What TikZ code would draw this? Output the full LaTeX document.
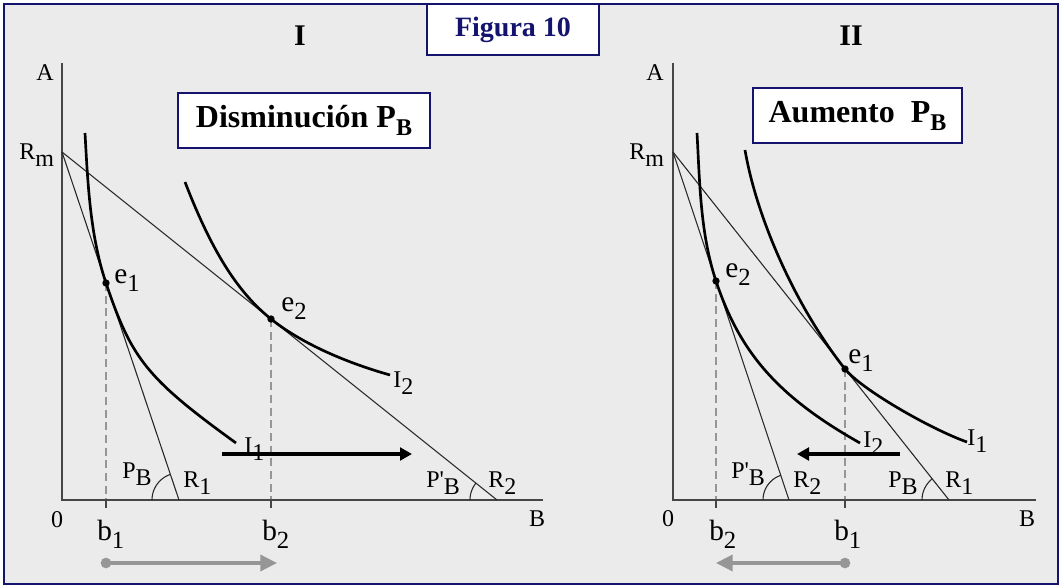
\documentclass[tikz,border=0pt]{standalone}
\usepackage{fontspec}
\setmainfont{Liberation Serif}
\usetikzlibrary{arrows.meta}
\definecolor{navy}{RGB}{20,20,110}
\definecolor{bgc}{RGB}{235,235,235}
\definecolor{axisc}{RGB}{70,70,70}
\definecolor{dashc}{RGB}{150,150,150}
\definecolor{arrgray}{RGB}{150,150,150}
\newcommand\lo[1]{\raisebox{-0.33em}{#1}}
\newcommand\los[1]{\raisebox{-0.3em}{\fontsize{18.5}{18.5}\selectfont #1}}
\tikzset{
  lbl/.style={inner sep=0pt, font=\fontsize{18}{18}\selectfont, anchor=base west},
  lblc/.style={inner sep=0pt, font=\fontsize{18}{18}\selectfont},
  biglbl/.style={inner sep=0pt, font=\fontsize{22}{22}\selectfont, anchor=base west},
  axisln/.style={draw=axisc, line width=1.1pt},
  budget/.style={draw=black!85, line width=0.8pt},
  icurve/.style={draw=black, line width=2pt},
  guide/.style={draw=dashc, line width=0.8pt, dash pattern=on 6pt off 3.5pt},
  tickln/.style={draw=axisc, line width=0.8pt},
  eqdot/.style={circle, fill=black, inner sep=0pt, minimum size=5.5pt},
  graydot/.style={circle, fill=arrgray, inner sep=0pt, minimum size=8pt},
  boxed/.style={draw=navy, line width=1.2pt, fill=white, inner sep=0pt},
  shiftarrow/.style={draw=black, line width=3pt, -{Triangle[length=9pt,width=9.5pt]}},
  grayarrow/.style={draw=arrgray, line width=2.6pt, -{Triangle[length=12.5pt,width=12pt]}},
  heading/.style={inner sep=0pt, font=\fontsize{22.5}{22.5}\selectfont\bfseries}
}
\begin{document}
\begin{tikzpicture}[x=0.75pt,y=-0.75pt]
\useasboundingbox (0,0) rectangle (1060,585);
% frame
\draw[draw=navy, line width=1.5pt, fill=bgc] (4,4) rectangle (1058,584);

% ===== Panel I =====
\coordinate (Atop1) at (62,63);
\coordinate (O1) at (62,500);
\coordinate (Bend1) at (543,500);
\coordinate (Rm1) at (62,152);
\coordinate (R1a) at (179,500);
\coordinate (R2a) at (497,500);
\coordinate (e1a) at (106,283);
\coordinate (e2a) at (271,319);
\coordinate (b1a) at (106,500);
\coordinate (b2a) at (271,500);
\coordinate (t1a) at (106,508);
\coordinate (t2a) at (271,508);

\draw[guide] (e1a) -- (b1a);
\draw[guide] (e2a) -- (b2a);
\draw[tickln] (b1a) -- (t1a);
\draw[tickln] (b2a) -- (t2a);
\draw[axisln] (Atop1) -- (O1) -- (Bend1);
\draw[budget] (Rm1) -- (R1a);
\draw[budget] (Rm1) -- (R2a);
\draw[budget] plot[domain=180:251.4, samples=25] ({179+27*cos(\x)},{500+27*sin(\x)});
\draw[budget] plot[domain=180:218.7, samples=20] ({497+27*cos(\x)},{500+27*sin(\x)});
\draw[icurve] (85,133) .. controls (87.8,183) and (90,235.6) .. (e1a)
  .. controls (131.5,358.8) and (146.8,378.5) .. (236,443);
\draw[icurve] (185,182) .. controls (211.6,250.8) and (237.4,292.1) .. (e2a)
  .. controls (299.1,341.5) and (341,361.1) .. (390,375);
\node[eqdot] (d1a) at (e1a) {};
\node[eqdot] (d2a) at (e2a) {};

\node[heading] (hI) at (300,36) {I};
\node[lblc] (A1) at (45,73) {A};
\node[lbl] (Rmlab1) at (19,159) {R\lo{m}};
\node[biglbl] (e1lab1) at (114,283) {e\los{1}};
\node[biglbl] (e2lab1) at (281,311) {e\los{2}};
\node[lbl] (I1lab1) at (244,453) {I\lo{1}};
\node[lbl] (I2lab1) at (393,387) {I\lo{2}};
\node[lbl] (PBlab1) at (122,478) {P\lo{B}};
\node[lbl] (R1lab1) at (183,487) {R\lo{1}};
\node[lbl] (PpBlab1) at (426,487) {P\textquotesingle\lo{B}};
\node[lbl] (R2lab1) at (488,487) {R\lo{2}};
\node[lblc] (zero1) at (57,520) {0};
\node[biglbl] (b1lab1) at (97,540) {b\los{1}};
\node[biglbl] (b2lab1) at (262,540) {b\los{2}};
\node[lblc] (Blab1) at (537,519) {B};

\coordinate (sa1) at (222,454);
\coordinate (sb1) at (412,454);
\draw[shiftarrow] (sa1) -- (sb1);
\coordinate (ga1) at (106,563);
\coordinate (gb1) at (277,563);
\draw[grayarrow] (ga1) -- (gb1);
\node[graydot] (gd1) at (ga1) {};

\node[boxed, minimum width=189pt, minimum height=41.25pt, font=\fontsize{24}{24}\selectfont\bfseries] (boxI) at (304,120.5) {Disminución P\raisebox{-0.25em}{\fontsize{18}{18}\selectfont B}};

% ===== Panel II =====
\coordinate (Atop2) at (673,63);
\coordinate (O2) at (673,500);
\coordinate (Bend2) at (1036,500);
\coordinate (Rm2) at (673,152);
\coordinate (R2b) at (789,500);
\coordinate (R1b) at (949,500);
\coordinate (e2b) at (716,281);
\coordinate (e1b) at (845,369);
\coordinate (b2b) at (716,500);
\coordinate (b1b) at (845,500);
\coordinate (t2b) at (716,508);
\coordinate (t1b) at (845,508);

\draw[guide] (e2b) -- (b2b);
\draw[guide] (e1b) -- (b1b);
\draw[tickln] (b2b) -- (t2b);
\draw[tickln] (b1b) -- (t1b);
\draw[axisln] (Atop2) -- (O2) -- (Bend2);
\draw[budget] (Rm2) -- (R2b);
\draw[budget] (Rm2) -- (R1b);
\draw[budget] plot[domain=180:251.6, samples=25] ({789+26*cos(\x)},{500+26*sin(\x)});
\draw[budget] plot[domain=180:231.6, samples=20] ({949+27*cos(\x)},{500+27*sin(\x)});
\draw[icurve] (697,133) .. controls (699.8,183) and (700.2,233.5) .. (e2b)
  .. controls (739.7,352.2) and (777.4,396.5) .. (860,443);
\draw[icurve] (745,150) .. controls (757.2,220.9) and (797.2,308.7) .. (e1b)
  .. controls (860.5,388.6) and (929.3,428.6) .. (967,442);
\node[eqdot] (d2b) at (e2b) {};
\node[eqdot] (d1b) at (e1b) {};

\node[heading] (hII) at (851,36) {II};
\node[lblc] (A2) at (655,73) {A};
\node[lbl] (Rmlab2) at (629,159) {R\lo{m}};
\node[biglbl] (e2lab2) at (725,277) {e\los{2}};
\node[biglbl] (e1lab2) at (848,363) {e\los{1}};
\node[lbl] (I2lab2) at (863,447) {I\lo{2}};
\node[lbl] (I1lab2) at (967,445) {I\lo{1}};
\node[lbl] (PpBlab2) at (731,478) {P\textquotesingle\lo{B}};
\node[lbl] (R2lab2) at (793,487) {R\lo{2}};
\node[lbl] (PBlab2) at (888,487) {P\lo{B}};
\node[lbl] (R1lab2) at (945,487) {R\lo{1}};
\node[lblc] (zero2) at (668,519) {0};
\node[biglbl] (b2lab2) at (709,540) {b\los{2}};
\node[biglbl] (b1lab2) at (834,540) {b\los{1}};
\node[lblc] (Blab2) at (1027,519) {B};

\coordinate (sa2) at (900,454);
\coordinate (sb2) at (797,454);
\draw[shiftarrow] (sa2) -- (sb2);
\coordinate (ga2) at (845,563);
\coordinate (gb2) at (716,563);
\draw[grayarrow] (ga2) -- (gb2);
\node[graydot] (gd2) at (ga2) {};

\node[boxed, minimum width=156.75pt, minimum height=41.25pt, font=\fontsize{24}{24}\selectfont\bfseries] (boxII) at (857.5,115.5) {Aumento\ \ P\raisebox{-0.25em}{\fontsize{18}{18}\selectfont B}};

% ===== title =====
\node[boxed, minimum width=129pt, minimum height=38.25pt, text=navy, font=\fontsize{21}{21}\selectfont\bfseries] (fig) at (513,29.5) {Figura 10};
\end{tikzpicture}
\end{document}
